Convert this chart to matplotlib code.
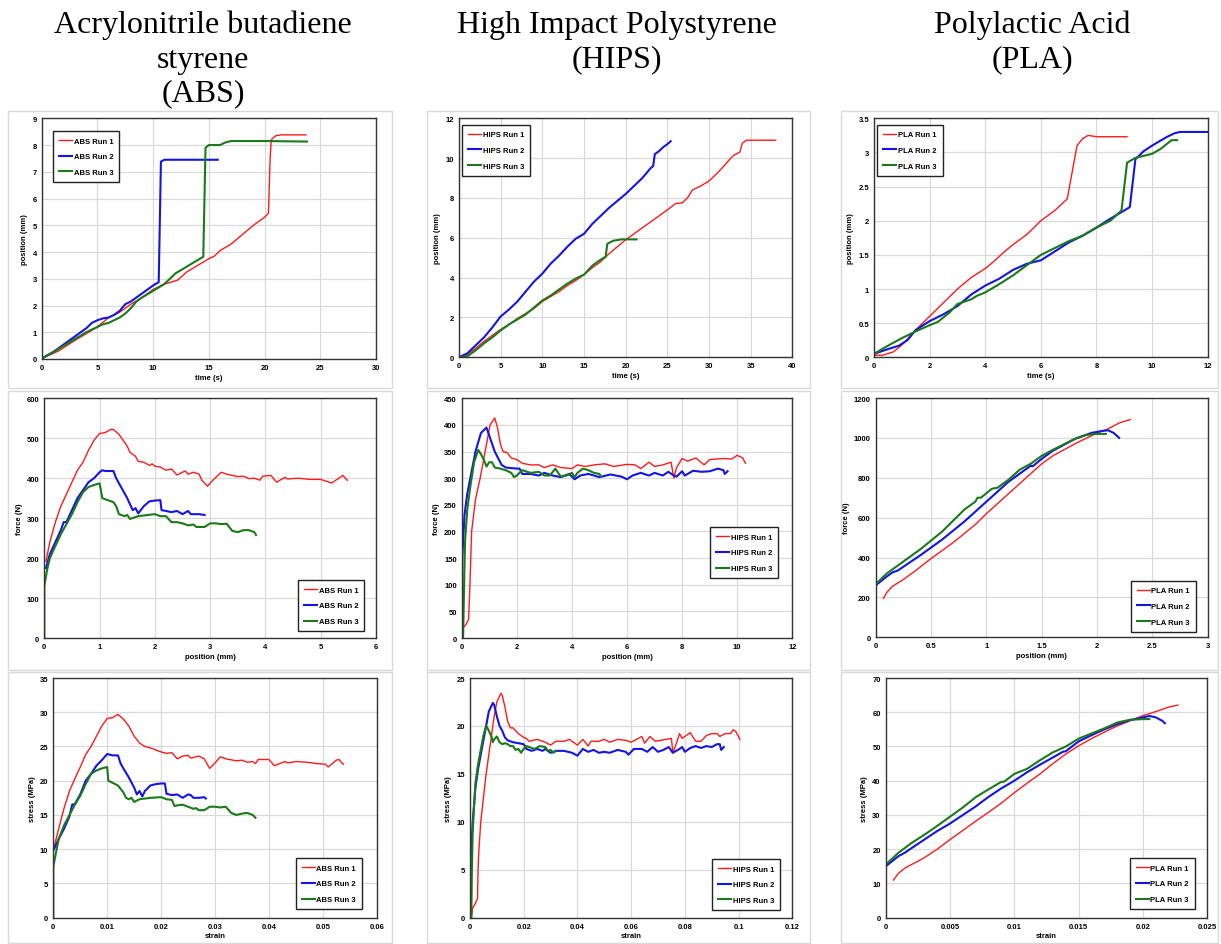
import numpy as np
import matplotlib.pyplot as plt
from matplotlib.patches import Rectangle
from matplotlib.ticker import FormatStrFormatter

plt.rcParams['font.family'] = ['Liberation Sans', 'DejaVu Sans']

W, H = 1221, 945

titles = ["Acrylonitrile butadiene\nstyrene\n(ABS)", "High Impact Polystyrene\n(HIPS)", "Polylactic Acid\n(PLA)"]
materials = ["ABS", "HIPS", "PLA"]
runs = ["Run 1", "Run 2", "Run 3"]

# ---- position (mm) vs time (s) ----
abs_pos_run1 = [(0, 0.02), (1.5, 0.3), (3, 0.7), (5, 1.2), (6, 1.55), (7, 1.75), (8, 2.05), (9, 2.3), (10, 2.6),
                (11, 2.8), (12.2, 2.95), (13, 3.25), (14, 3.5), (15, 3.75), (15.5, 3.85), (16, 4.05), (17, 4.3),
                (18, 4.65), (19, 5.0), (20, 5.3), (20.35, 5.45), (20.5, 7.5), (20.6, 8.2), (21, 8.35),
                (21.5, 8.38), (23.7, 8.38)]
abs_pos_run2 = [(0, 0.02), (1, 0.25), (2, 0.55), (3, 0.85), (4, 1.15), (4.5, 1.35), (5, 1.45), (5.5, 1.52),
                (6, 1.55), (6.5, 1.65), (7, 1.8), (7.5, 2.05), (8, 2.15), (9, 2.45), (10, 2.75), (10.5, 2.87),
                (10.7, 7.38), (11, 7.45), (12, 7.45), (15.8, 7.45)]
abs_pos_run3 = [(0, 0.02), (1, 0.25), (2, 0.5), (3, 0.75), (4, 1.0), (5, 1.2), (5.5, 1.3), (6, 1.35), (7, 1.55),
                (7.5, 1.7), (8, 1.9), (8.5, 2.15), (9, 2.3), (10, 2.55), (11, 2.8), (12, 3.2), (13, 3.45),
                (14, 3.7), (14.5, 3.82), (14.7, 7.9), (15, 8.0), (16, 8.0), (16.5, 8.1), (17, 8.15), (20, 8.15),
                (23.8, 8.13)]

hips_pos_run1 = [(0, 0.05), (0.5, 0.05), (1, 0.15), (2, 0.45), (3, 0.8), (4, 1.1), (5, 1.4), (6, 1.65), (7, 1.95),
                 (8, 2.2), (9, 2.45), (10, 2.8), (11, 3.05), (12, 3.3), (13, 3.6), (14, 3.85), (15, 4.15),
                 (16, 4.5), (17, 4.8), (18, 5.2), (19, 5.55), (20, 5.9), (21, 6.2), (22, 6.5), (23, 6.8),
                 (24, 7.1), (25, 7.4), (26, 7.72), (26.8, 7.75), (27.5, 8.05), (28, 8.4), (29, 8.6), (30, 8.85),
                 (31, 9.25), (32, 9.7), (32.5, 9.95), (33, 10.15), (33.7, 10.3), (34, 10.75), (34.5, 10.9),
                 (38, 10.9)]
hips_pos_run2 = [(0, 0.0), (1, 0.2), (2, 0.6), (3, 1.0), (4, 1.5), (5, 2.05), (6, 2.4), (7, 2.8), (8, 3.3),
                 (9, 3.8), (10, 4.2), (11, 4.7), (12, 5.1), (13, 5.55), (14, 5.95), (15, 6.2), (16, 6.7),
                 (17, 7.1), (18, 7.5), (19, 7.85), (20, 8.2), (21, 8.6), (22, 9.0), (23, 9.5), (23.3, 9.6),
                 (23.5, 10.2), (24, 10.35), (24.5, 10.55), (25, 10.7), (25.4, 10.85)]
hips_pos_run3 = [(0, 0.0), (1, 0.05), (2, 0.35), (3, 0.7), (4, 1.0), (5, 1.35), (6, 1.65), (7, 1.9), (8, 2.15),
                 (9, 2.5), (10, 2.85), (11, 3.1), (12, 3.4), (13, 3.7), (14, 3.95), (15, 4.15), (16, 4.6),
                 (17, 4.9), (17.6, 5.05), (17.8, 5.7), (18.5, 5.85), (19.5, 5.92), (21.3, 5.92)]

pla_pos_run1 = [(0, 0.03), (0.3, 0.03), (0.7, 0.08), (1, 0.18), (1.5, 0.4), (2, 0.6), (2.5, 0.8), (3, 1.0),
                (3.5, 1.17), (4, 1.3), (4.3, 1.4), (4.7, 1.55), (5, 1.65), (5.5, 1.8), (6, 2.0), (6.5, 2.15),
                (6.95, 2.32), (7.3, 3.1), (7.5, 3.2), (7.7, 3.25), (8, 3.23), (9.1, 3.23)]
pla_pos_run2 = [(0, 0.05), (0.5, 0.12), (0.9, 0.17), (1.2, 0.25), (1.5, 0.4), (2, 0.53), (2.5, 0.63), (3, 0.75),
                (3.5, 0.92), (4, 1.05), (4.5, 1.15), (5, 1.28), (5.5, 1.37), (6, 1.42), (6.5, 1.55), (7, 1.68),
                (7.5, 1.78), (8, 1.9), (8.5, 2.03), (9, 2.15), (9.2, 2.2), (9.4, 2.9), (9.7, 3.02), (10, 3.1),
                (10.5, 3.22), (10.8, 3.28), (11, 3.3), (12, 3.3)]
pla_pos_run3 = [(0, 0.05), (0.5, 0.17), (1, 0.28), (1.5, 0.38), (2, 0.47), (2.3, 0.52), (2.7, 0.65), (3, 0.78),
                (3.5, 0.85), (3.7, 0.9), (4, 0.95), (4.5, 1.07), (5, 1.2), (5.5, 1.35), (6, 1.5), (6.5, 1.6),
                (7, 1.7), (7.5, 1.78), (8, 1.9), (8.5, 2.0), (8.9, 2.15), (9.1, 2.85), (9.4, 2.92), (10, 2.98),
                (10.3, 3.05), (10.7, 3.18), (10.9, 3.18)]

# ---- force (N) vs position (mm) ----
abs_force_run1 = [(0.03, 192), (0.1, 240), (0.2, 290), (0.3, 330), (0.4, 360), (0.5, 390), (0.6, 420), (0.7, 440),
                  (0.8, 470), (0.9, 495), (1.0, 512), (1.1, 514), (1.2, 522), (1.25, 522), (1.35, 510),
                  (1.45, 490), (1.5, 480), (1.55, 465), (1.65, 455), (1.7, 442), (1.8, 440), (1.9, 432),
                  (1.95, 436), (2.0, 430), (2.1, 428), (2.2, 420), (2.3, 423), (2.4, 408), (2.5, 415), (2.55, 418),
                  (2.6, 410), (2.7, 415), (2.8, 410), (2.85, 395), (2.95, 380), (3.05, 395), (3.2, 415),
                  (3.3, 410), (3.5, 404), (3.6, 405), (3.7, 399), (3.8, 400), (3.9, 395), (3.95, 405),
                  (4.1, 407), (4.2, 390), (4.35, 402), (4.4, 398), (4.6, 400), (4.8, 397), (5.0, 397),
                  (5.2, 388), (5.4, 407), (5.48, 395)]
abs_force_run2 = [(0.03, 175), (0.1, 210), (0.2, 240), (0.3, 270), (0.35, 290), (0.4, 290), (0.5, 320),
                  (0.6, 350), (0.7, 370), (0.8, 390), (0.9, 400), (1.0, 415), (1.05, 420), (1.1, 418),
                  (1.25, 418), (1.3, 400), (1.4, 375), (1.5, 350), (1.55, 335), (1.6, 320), (1.65, 325),
                  (1.7, 312), (1.8, 330), (1.9, 342), (2.0, 344), (2.1, 345), (2.12, 320), (2.2, 318), (2.3, 315),
                  (2.4, 318), (2.5, 310), (2.6, 318), (2.65, 310), (2.8, 310), (2.9, 308)]
abs_force_run3 = [(0, 0), (0.0, 130), (0.05, 170), (0.1, 200), (0.2, 230), (0.3, 260), (0.4, 285), (0.5, 310),
                  (0.6, 340), (0.7, 365), (0.8, 378), (0.9, 383), (1.0, 387), (1.05, 350), (1.15, 345),
                  (1.25, 340), (1.3, 330), (1.35, 310), (1.45, 305), (1.5, 308), (1.55, 298), (1.7, 305),
                  (2.0, 310), (2.1, 305), (2.2, 305), (2.3, 290), (2.4, 290), (2.5, 287), (2.6, 282), (2.7, 284),
                  (2.75, 278), (2.9, 278), (3.0, 287), (3.1, 287), (3.2, 285), (3.3, 286), (3.4, 268),
                  (3.5, 265), (3.6, 270), (3.7, 270), (3.8, 265), (3.83, 258)]

hips_force_run1 = [(0.05, 0), (0.06, 20), (0.15, 25), (0.25, 35), (0.3, 100), (0.33, 150), (0.36, 200),
                   (0.5, 260), (0.67, 300), (0.85, 350), (1.03, 400), (1.2, 413), (1.3, 395), (1.4, 365),
                   (1.5, 350), (1.65, 348), (1.8, 338), (2.0, 335), (2.2, 328), (2.5, 325), (2.8, 325), (3.0, 320),
                   (3.3, 325), (3.6, 320), (4.0, 318), (4.2, 325), (4.5, 322), (4.8, 325), (5.2, 327), (5.5, 322),
                   (6.0, 326), (6.3, 325), (6.5, 318), (6.8, 330), (7.0, 322), (7.3, 325), (7.6, 330), (7.7, 300),
                   (7.8, 320), (8.0, 337), (8.2, 332), (8.5, 338), (8.8, 325), (9.0, 335), (9.5, 337), (9.8, 336),
                   (10.0, 343), (10.2, 338), (10.3, 328)]
hips_force_run2 = [(0, 0), (0.02, 150), (0.1, 230), (0.2, 270), (0.35, 310), (0.5, 350), (0.7, 385), (0.9, 395),
                   (1.0, 380), (1.1, 365), (1.2, 350), (1.3, 340), (1.45, 325), (1.6, 320), (2.0, 318),
                   (2.1, 318), (2.2, 308), (2.5, 308), (2.8, 305), (3.0, 310), (3.3, 305), (3.6, 302), (3.9, 308),
                   (4.1, 298), (4.3, 305), (4.6, 308), (5.0, 302), (5.4, 307), (5.8, 303), (6.0, 298), (6.2, 305),
                   (6.5, 310), (6.8, 305), (7.0, 310), (7.3, 305), (7.5, 312), (7.7, 305), (7.8, 303), (8.0, 313),
                   (8.1, 305), (8.4, 314), (8.7, 312), (9.0, 313), (9.3, 318), (9.5, 315), (9.55, 308),
                   (9.65, 313)]
hips_force_run3 = [(0.05, 0), (0.08, 80), (0.12, 180), (0.2, 240), (0.3, 280), (0.45, 330), (0.6, 353),
                   (0.7, 345), (0.8, 335), (0.9, 322), (1.0, 330), (1.1, 330), (1.2, 320), (1.4, 318), (1.6, 315),
                   (1.8, 310), (1.9, 302), (2.0, 305), (2.2, 315), (2.5, 310), (2.8, 312), (3.0, 305), (3.2, 305),
                   (3.4, 318), (3.5, 310), (3.6, 303), (3.8, 305), (4.0, 310), (4.1, 302), (4.2, 310), (4.4, 318),
                   (4.6, 315), (4.8, 310), (5.0, 308), (5.05, 303)]

pla_force_run1 = [(0.07, 195), (0.1, 225), (0.15, 255), (0.25, 290), (0.35, 330), (0.5, 395), (0.7, 475),
                  (0.9, 565), (1.0, 620), (1.2, 720), (1.4, 820), (1.5, 870), (1.6, 910), (1.8, 970), (2.0, 1025),
                  (2.1, 1045), (2.2, 1075), (2.3, 1092)]
pla_force_run2 = [(0.01, 265), (0.1, 305), (0.15, 325), (0.2, 335), (0.4, 410), (0.6, 490), (0.8, 580),
                  (1.0, 680), (1.2, 780), (1.4, 860), (1.42, 858), (1.5, 895), (1.6, 935), (1.8, 995),
                  (1.95, 1025), (2.05, 1035), (2.1, 1038), (2.15, 1025), (2.2, 1000)]
pla_force_run3 = [(0.01, 272), (0.1, 320), (0.2, 360), (0.4, 440), (0.6, 530), (0.8, 640), (0.9, 680),
                  (0.92, 700), (0.95, 700), (1.05, 745), (1.1, 750), (1.2, 790), (1.3, 840), (1.4, 870),
                  (1.5, 910), (1.6, 940), (1.8, 995), (1.9, 1015), (2.0, 1020), (2.08, 1020)]

# ---- stress (MPa) vs strain ----
abs_stress_run1 = [(0, 9.9), (0.001, 13), (0.002, 16), (0.003, 18.5), (0.004, 20.3), (0.005, 22), (0.006, 23.8),
                   (0.007, 25), (0.008, 26.5), (0.009, 28), (0.010, 29.1), (0.011, 29.2), (0.012, 29.7),
                   (0.013, 29), (0.014, 28), (0.015, 26.5), (0.016, 25.5), (0.017, 25), (0.018, 24.8),
                   (0.019, 24.5), (0.020, 24.2), (0.021, 24), (0.022, 24.1), (0.023, 23.2), (0.024, 23.6),
                   (0.025, 23.7), (0.0255, 23.3), (0.027, 23.6), (0.028, 23.2), (0.0285, 22.5), (0.029, 21.8),
                   (0.030, 22.6), (0.031, 23.5), (0.032, 23.2), (0.034, 22.9), (0.035, 23.0), (0.036, 22.7),
                   (0.037, 22.8), (0.0375, 22.5), (0.038, 23.1), (0.040, 23.1), (0.041, 22.2), (0.043, 22.8),
                   (0.0435, 22.6), (0.045, 22.8), (0.047, 22.7), (0.049, 22.5), (0.0505, 22.4), (0.051, 22.0),
                   (0.0525, 23.0), (0.053, 23.1), (0.0538, 22.4)]
abs_stress_run2 = [(0, 9.8), (0.001, 11.5), (0.002, 13), (0.003, 14.8), (0.0035, 16.5), (0.004, 16.6),
                   (0.005, 18), (0.006, 20), (0.007, 21), (0.008, 22.2), (0.009, 23), (0.010, 23.9),
                   (0.011, 23.7), (0.012, 23.7), (0.0125, 22.5), (0.013, 21.8), (0.014, 20.5), (0.015, 19),
                   (0.0155, 18), (0.016, 18.5), (0.0165, 17.7), (0.017, 18.5), (0.018, 19.3), (0.019, 19.5),
                   (0.020, 19.6), (0.0207, 19.6), (0.021, 18.1), (0.022, 17.9), (0.023, 18), (0.024, 17.5),
                   (0.025, 18), (0.0255, 17.9), (0.026, 17.5), (0.027, 17.5), (0.028, 17.6), (0.0283, 17.4)]
abs_stress_run3 = [(0, 0), (0, 7.5), (0.0005, 9.5), (0.001, 11.5), (0.002, 13.5), (0.003, 15), (0.004, 16.5),
                   (0.005, 17.8), (0.006, 19.5), (0.007, 21), (0.008, 21.5), (0.009, 21.8), (0.010, 22),
                   (0.0102, 20), (0.011, 19.7), (0.012, 19.3), (0.013, 18.3), (0.0135, 17.5), (0.014, 17.3),
                   (0.0145, 17.5), (0.015, 16.9), (0.016, 17.3), (0.018, 17.5), (0.020, 17.6), (0.021, 17.3),
                   (0.022, 17.2), (0.0225, 16.3), (0.023, 16.4), (0.024, 16.5), (0.025, 16.2), (0.026, 15.9),
                   (0.0265, 16), (0.027, 15.7), (0.028, 15.7), (0.029, 16.2), (0.030, 16.2), (0.031, 16.1),
                   (0.032, 16.2), (0.033, 15.3), (0.034, 15), (0.035, 15.2), (0.036, 15.3), (0.037, 15),
                   (0.0375, 14.6)]

hips_stress_run1 = [(0.0005, 0), (0.001, 1), (0.002, 1.5), (0.0028, 2), (0.003, 5), (0.0033, 7), (0.004, 10),
                    (0.005, 12.5), (0.006, 15), (0.007, 17), (0.008, 19), (0.009, 21), (0.010, 22.5),
                    (0.0115, 23.4), (0.012, 23.2), (0.013, 22), (0.014, 20.5), (0.015, 19.8), (0.016, 19.8),
                    (0.017, 19.5), (0.018, 19.2), (0.019, 19), (0.020, 18.8), (0.021, 18.7), (0.022, 18.4),
                    (0.025, 18.6), (0.028, 18.3), (0.030, 18), (0.032, 18.4), (0.035, 18.4), (0.037, 18.6),
                    (0.040, 18), (0.042, 18.6), (0.044, 17.9), (0.045, 18.4), (0.048, 18.4), (0.050, 18.6),
                    (0.052, 18.3), (0.055, 18.6), (0.058, 18.5), (0.060, 18.3), (0.062, 18.6), (0.064, 18.9),
                    (0.065, 18.2), (0.067, 18.9), (0.069, 18.4), (0.071, 18.5), (0.073, 18.6), (0.075, 18.7),
                    (0.0755, 17.2), (0.077, 18.3), (0.078, 19.2), (0.079, 18.7), (0.082, 19.3), (0.084, 18.4),
                    (0.086, 18.4), (0.088, 19), (0.090, 19.2), (0.092, 19.2), (0.093, 18.9), (0.095, 19.2),
                    (0.097, 19.2), (0.098, 19.6), (0.099, 19.4), (0.1005, 18.6)]
hips_stress_run2 = [(0, 0), (0.0005, 7), (0.001, 10), (0.002, 13.5), (0.003, 15.5), (0.004, 17), (0.005, 18.5),
                    (0.006, 20), (0.007, 21.5), (0.0085, 22.4), (0.009, 22.2), (0.010, 21), (0.011, 20),
                    (0.012, 19.5), (0.013, 18.8), (0.014, 18.5), (0.016, 18.3), (0.018, 18.2), (0.020, 18.1),
                    (0.021, 17.6), (0.023, 17.4), (0.025, 17.6), (0.027, 17.4), (0.028, 17.6), (0.030, 17.2),
                    (0.032, 17.4), (0.035, 17.4), (0.038, 17.2), (0.040, 16.9), (0.042, 17.6), (0.044, 17.3),
                    (0.046, 17.5), (0.048, 17.2), (0.050, 17.3), (0.052, 17.2), (0.055, 17.5), (0.058, 17.3),
                    (0.059, 17.0), (0.061, 17.6), (0.064, 17.6), (0.066, 17.3), (0.068, 17.8), (0.070, 17.3),
                    (0.072, 17.5), (0.074, 17.8), (0.0755, 17.2), (0.078, 17.6), (0.079, 17.8), (0.080, 17.3),
                    (0.082, 17.7), (0.084, 17.9), (0.086, 17.7), (0.088, 17.9), (0.090, 17.8), (0.092, 18.1),
                    (0.093, 18.1), (0.0935, 17.5), (0.0945, 17.8)]
hips_stress_run3 = [(0.0005, 0), (0.0007, 5), (0.001, 9), (0.002, 14), (0.003, 16), (0.004, 17.5), (0.005, 19),
                    (0.006, 20), (0.0065, 19.8), (0.007, 19.5), (0.008, 18.9), (0.0085, 18.3), (0.009, 18.6),
                    (0.010, 18.9), (0.011, 18.3), (0.012, 18.1), (0.013, 18.2), (0.014, 18.1), (0.015, 17.9),
                    (0.016, 17.9), (0.017, 17.5), (0.018, 17.6), (0.019, 17.2), (0.020, 17.6), (0.021, 17.9),
                    (0.022, 17.8), (0.024, 17.6), (0.026, 17.9), (0.028, 17.8), (0.029, 17.4), (0.030, 17.5),
                    (0.031, 17.2), (0.032, 17.4)]

pla_stress_run1 = [(0.0006, 11), (0.001, 13), (0.0015, 14.5), (0.002, 15.5), (0.003, 17.5), (0.004, 20),
                   (0.005, 22.8), (0.006, 25.5), (0.007, 28.2), (0.008, 30.8), (0.009, 33.5), (0.010, 36.5),
                   (0.011, 39.3), (0.012, 42), (0.013, 45), (0.014, 47.8), (0.015, 50.2), (0.016, 52.3),
                   (0.017, 54.2), (0.018, 56), (0.019, 57.5), (0.020, 59), (0.021, 60.2), (0.022, 61.5),
                   (0.0227, 62.1)]
pla_stress_run2 = [(0, 15), (0.0005, 16.5), (0.001, 18), (0.0015, 19), (0.002, 20.3), (0.003, 22.8),
                   (0.004, 25.3), (0.005, 27.5), (0.006, 30), (0.007, 32.5), (0.008, 35.3), (0.009, 37.8),
                   (0.010, 40), (0.011, 42.5), (0.012, 44.7), (0.013, 46.8), (0.0138, 48.5), (0.014, 48.6),
                   (0.015, 51.5), (0.016, 53.3), (0.017, 55), (0.018, 56.5), (0.019, 57.7), (0.020, 58.5),
                   (0.0205, 58.9), (0.021, 58.5), (0.0215, 57.5), (0.0217, 56.8)]
pla_stress_run3 = [(0, 15.5), (0.001, 19), (0.002, 21.8), (0.003, 24.2), (0.004, 26.8), (0.005, 29.5),
                   (0.006, 32.2), (0.007, 35.2), (0.008, 37.5), (0.009, 39.7), (0.0092, 39.7), (0.010, 42),
                   (0.011, 43.5), (0.012, 46), (0.013, 48.3), (0.014, 50), (0.015, 52.3), (0.016, 53.8),
                   (0.017, 55.3), (0.018, 57), (0.019, 57.8), (0.020, 58), (0.0205, 58)]

colors = ['#ff1a1a', '#1414e6', '#1a7a1a']
widths = [1.0, 1.5, 1.5]

# plot box in pixels (left, top, right, bottom), axis ranges, labels, legend placement
panels = [
    ((41.7, 119.3, 376, 360), [abs_pos_run1, abs_pos_run2, abs_pos_run3], 0,
     (0, 30, 5), (0, 9, 1), "time (s)", "position (mm)", 'upper left', (0.034, 0.947)),
    ((459, 119.3, 792.3, 358.3), [hips_pos_run1, hips_pos_run2, hips_pos_run3], 1,
     (0, 40, 5), (0, 12, 2), "time (s)", "position (mm)", 'upper left', (0.01, 0.973)),
    ((874, 119.3, 1207.7, 358.3), [pla_pos_run1, pla_pos_run2, pla_pos_run3], 2,
     (0, 12, 2), (0, 3.5, 0.5), "time (s)", "position (mm)", 'upper left', (0.01, 0.973)),
    ((44.3, 399.3, 376, 639), [abs_force_run1, abs_force_run2, abs_force_run3], 0,
     (0, 6, 1), (0, 600, 100), "position (mm)", "force (N)", 'lower right', (0.965, 0.028)),
    ((461.7, 399.3, 792.3, 639), [hips_force_run1, hips_force_run2, hips_force_run3], 1,
     (0, 12, 2), (0, 450, 50), "position (mm)", "force (N)", 'lower right', (0.958, 0.249)),
    ((875.7, 399, 1207.7, 638.3), [pla_force_run1, pla_force_run2, pla_force_run3], 2,
     (0, 3, 0.5), (0, 1200, 200), "position (mm)", "force (N)", 'lower right', (0.965, 0.023)),
    ((53.3, 679, 376.7, 918.7), [abs_stress_run1, abs_stress_run2, abs_stress_run3], 0,
     (0, 0.06, 0.01), (0, 35, 5), "strain", "stress (MPa)", 'lower right', (0.955, 0.035)),
    ((470, 679, 792.3, 918.7), [hips_stress_run1, hips_stress_run2, hips_stress_run3], 1,
     (0, 0.12, 0.02), (0, 25, 5), "strain", "stress (MPa)", 'lower right', (0.962, 0.031)),
    ((885.7, 679, 1207.3, 918.7), [pla_stress_run1, pla_stress_run2, pla_stress_run3], 2,
     (0, 0.025, 0.005), (0, 70, 10), "strain", "stress (MPa)", 'lower right', (0.962, 0.035)),
]

fig = plt.figure(figsize=(W / 100, H / 100), dpi=100)

# light grey chart-area frames
col_x = [(8, 392), (427, 810), (841, 1218)]
row_y = [(112, 389), (392, 671), (673, 944)]
for x0, x1 in col_x:
    for y0, y1 in row_y:
        fig.add_artist(Rectangle((x0 / W, 1 - y1 / H), (x1 - x0) / W, (y1 - y0) / H,
                                 transform=fig.transFigure, fill=False, ec='#d9d9d9', lw=1.0))

# column titles
title_x = [203, 617, 1032]
for tx, t in zip(title_x, titles):
    fig.text(tx / W, 1 - 11 / H, t, ha='center', va='top', fontsize=23,
             family='Liberation Serif', linespacing=1.23)

for box, series, mi, xr, yr, xlab, ylab, loc, anchor in panels:
    l, t, r, b = box
    ax = fig.add_axes([l / W, 1 - b / H, (r - l) / W, (b - t) / H])
    for k, pts in enumerate(series):
        xs, ys = zip(*pts)
        ax.plot(xs, ys, color=colors[k], lw=widths[k], label=f"{materials[mi]} {runs[k]}")
    ax.set_xlim(xr[0], xr[1])
    ax.set_ylim(yr[0], yr[1])
    ax.set_xticks(np.round(np.arange(xr[0], xr[1] + xr[2] / 2, xr[2]), 4))
    ax.set_yticks(np.round(np.arange(yr[0], yr[1] + yr[2] / 2, yr[2]), 4))
    ax.xaxis.set_major_formatter(FormatStrFormatter('%g'))
    ax.yaxis.set_major_formatter(FormatStrFormatter('%g'))
    ax.grid(True, color='#d9d9d9', lw=0.9)
    ax.set_axisbelow(True)
    ax.tick_params(length=0, labelsize=5.5, pad=3.5)
    for lab in ax.get_xticklabels() + ax.get_yticklabels():
        lab.set_fontweight('bold')
    for s in ax.spines.values():
        s.set_color('#333333')
        s.set_linewidth(1.0)
    ax.set_xlabel(xlab, fontsize=5.5, fontweight='bold', labelpad=2)
    ax.set_ylabel(ylab, fontsize=5.5, fontweight='bold', labelpad=3)
    leg = ax.legend(loc=loc, bbox_to_anchor=anchor, fancybox=False, framealpha=1,
                    edgecolor='#222222', prop={'size': 5.5, 'weight': 'bold'},
                    borderpad=0.8, labelspacing=1.1, handlelength=1.7, handletextpad=0.2,
                    borderaxespad=0)
    leg.get_frame().set_linewidth(1.0)

fig.savefig("out.png", dpi=100)
